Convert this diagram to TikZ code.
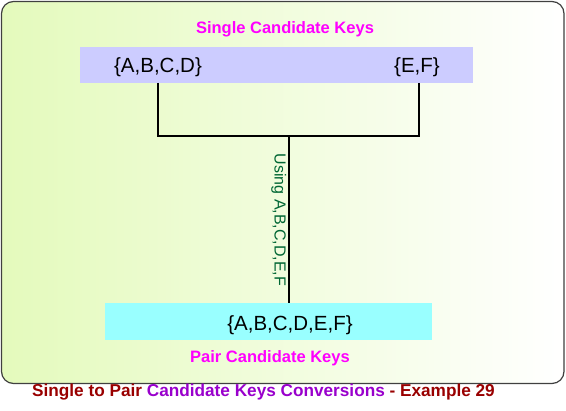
\documentclass[tikz,border=0pt]{standalone}
\usepackage{fontspec}
\setmainfont{Liberation Sans}
\definecolor{bgleft}{RGB}{228,250,188}
\definecolor{frame}{RGB}{64,64,64}
\definecolor{titlemag}{RGB}{255,0,255}
\definecolor{topfill}{RGB}{204,204,255}
\definecolor{botfill}{RGB}{153,255,255}
\definecolor{lblgreen}{RGB}{0,102,51}
\definecolor{capred}{RGB}{153,0,0}
\definecolor{cappurple}{RGB}{153,0,204}
\begin{document}
\begin{tikzpicture}[x=1pt,y=-1pt,
  title/.style={text=titlemag,font=\fontsize{16.5}{18}\selectfont\bfseries,inner sep=0pt},
  keytext/.style={font=\fontsize{20.5}{22}\selectfont,inner sep=0pt,text=black},
  conn/.style={draw=black,line width=1.6pt}]
\useasboundingbox (0,0) rectangle (566,411);
\shade[left color=bgleft,right color=white,rounded corners=12pt,draw=frame,line width=1.2pt]
  (1.5,1.5) rectangle (564,383.5);
% boxes
\node[fill=topfill,minimum width=393pt,minimum height=36pt,inner sep=0pt] (topbox) at (276.5,65) {};
\node[fill=botfill,minimum width=327pt,minimum height=37pt,inner sep=0pt] (botbox) at (268.5,321.5) {};
\node[title] (t1) at (285,29) {Single Candidate Keys};
\node[title] (t2) at (270,358) {Pair Candidate Keys};
\node[keytext] (abcd) at (158,67) {\{A,B,C,D\}};
\node[keytext] (ef) at (417,67) {\{E,F\}};
\node[keytext] (all) at (290,325) {\{A,B,C,D,E,F\}};
\coordinate (l1) at (158,83);
\coordinate (r1) at (419,83);
\coordinate (j) at (289,136);
\coordinate (b1) at (289,303);
\draw[conn] (l1) |- (j);
\draw[conn] (r1) |- (j);
\draw[conn] (j) -- (b1);
\node[rotate=-90,anchor=north,inner sep=0pt,text=lblgreen,font=\fontsize{16}{18}\selectfont] (lbl) at (286.5,220) {Using A,B,C,D,E,F};
\node[inner sep=0pt,font=\fontsize{17.2}{19}\selectfont\bfseries] (cap) at (263.5,392)
  {\textcolor{capred}{Single to Pair} \textcolor{cappurple}{Candidate Keys Conversions} \textcolor{capred}{- Example 29}};
\end{tikzpicture}
\end{document}
